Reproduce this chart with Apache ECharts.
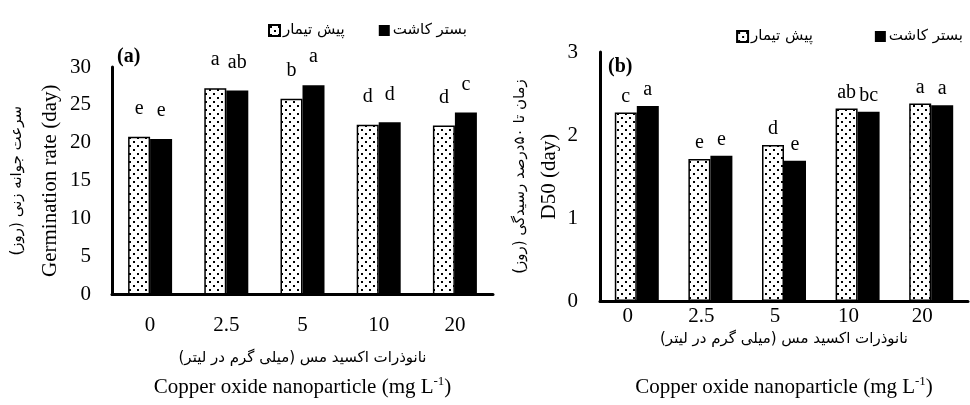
<!DOCTYPE html>
<html>
<head>
<meta charset="utf-8">
<script src="https://cdn.jsdelivr.net/npm/echarts@6/dist/echarts.min.js"></script>
<style>
  html, body { margin: 0; padding: 0; background: #fff; }
  #chart { width: 970px; height: 405px; }
</style>
</head>
<body>
<div id="chart"></div>
<script>
// concentration of CuO nanoparticles (mg/L)
var categories = ['0', '2.5', '5', '10', '20'];

// (a) germination rate (day)
var germPre = [20.8, 27.2, 25.8, 22.4, 22.3];
var germBed = [20.5, 26.9, 27.6, 22.7, 24.0];
var germPreLetters = ['e', 'a', 'b', 'd', 'd'];
var germBedLetters = ['e', 'ab', 'a', 'd', 'c'];

// (b) D50 (day)
var d50Pre = [2.27, 1.71, 1.88, 2.32, 2.38];
var d50Bed = [2.35, 1.75, 1.69, 2.28, 2.36];
var d50PreLetters = ['c', 'e', 'd', 'ab', 'a'];
var d50BedLetters = ['a', 'e', 'e', 'bc', 'a'];

var namePre = 'پیش تیمار';
var nameBed = 'بستر کاشت';

var RLM = '\u200F';
var serif = 'Liberation Serif';
var faFont = 'DejaVu Sans';

// dotted fill like the excel pattern
function dots() {
    var c = document.createElement('canvas');
    c.width = 8; c.height = 8;
    var ctx = c.getContext('2d');
    ctx.fillStyle = '#fff';
    ctx.fillRect(0, 0, 8, 8);
    ctx.fillStyle = '#000';
    ctx.fillRect(1, 1, 2, 2);
    ctx.fillRect(5, 5, 2, 2);
    return c;
}
var dotFill = { image: dots(), repeat: 'repeat' };

var myChart = echarts.init(document.getElementById('chart'));

function letterLabel(arr, dist) {
    return {
        show: true,
        position: 'top',
        distance: dist,
        color: '#000',
        fontFamily: serif,
        fontSize: 20,
        formatter: function (p) { return arr[p.dataIndex]; }
    };
}

var axisLine = { show: true, lineStyle: { color: '#000', width: 3 } };
var tickText = { color: '#000', fontFamily: serif, fontSize: 21 };

var richNames = {
    fa: { fontFamily: faFont, fontSize: 15, color: '#000' },
    en: { fontFamily: serif, fontSize: 21, color: '#000' },
    s: { fontFamily: serif, fontSize: 13, color: '#000', lineHeight: 13, padding: [0, 0, 12, 0] }
};

function rich(faLh, enLh) {
    return {
        fa: Object.assign({}, richNames.fa, { lineHeight: faLh }),
        en: Object.assign({}, richNames.en, { lineHeight: enLh }),
        s: richNames.s
    };
}

var xName = '{fa|' + RLM + 'نانوذرات اکسید مس (میلی گرم در لیتر)' + RLM + '}\n{en|Copper oxide nanoparticle (mg L}{s|-1}{en|)}';
var legendText = { fontFamily: faFont, fontSize: 15, color: '#000', padding: [0, 0, 0, -2] };

var option = {
    animation: false,
    backgroundColor: '#fff',
    title: [
        { text: '(a)', left: 112, top: 42, textStyle: { fontFamily: serif, fontSize: 20, fontWeight: 'bold', color: '#000' } },
        { text: '(b)', left: 603, top: 52, textStyle: { fontFamily: serif, fontSize: 20, fontWeight: 'bold', color: '#000' } }
    ],
    legend: [
        {
            left: 263, top: 18, icon: 'rect', itemWidth: 11, itemHeight: 11, itemGap: 34,
            orient: 'horizontal', selectedMode: false, data: [namePre, nameBed],
            textStyle: legendText
        },
        {
            right: 2, top: 24, icon: 'rect', itemWidth: 11, itemHeight: 11, itemGap: 62,
            orient: 'horizontal', selectedMode: false, data: [namePre, nameBed],
            textStyle: legendText
        }
    ],
    grid: [
        { left: 112, top: 67, width: 381, height: 233 },
        { left: 600, top: 52, width: 368, height: 259 }
    ],
    xAxis: [
        {
            gridIndex: 0, type: 'category', data: categories,
            axisLine: axisLine, axisTick: { show: false },
            axisLabel: Object.assign({ margin: 20 }, tickText),
            name: xName, nameLocation: 'middle', nameGap: 50,
            nameTextStyle: { rich: rich(28, 30) }
        },
        {
            gridIndex: 1, type: 'category', data: categories,
            axisLine: axisLine, axisTick: { show: false },
            axisLabel: Object.assign({ margin: 5, padding: [0, 18, 0, 0] }, tickText),
            name: xName, nameLocation: 'middle', nameGap: 16,
            nameTextStyle: { rich: rich(26, 70) }
        }
    ],
    yAxis: [
        {
            gridIndex: 0, type: 'value', min: 0, max: 30, interval: 5,
            axisLine: axisLine, axisTick: { show: false }, splitLine: { show: false },
            axisLabel: Object.assign({ margin: 21 }, tickText),
            name: '{fa|' + RLM + 'سرعت جوانه زنی (روز)' + RLM + '}\n{en|Germination rate (day)}',
            nameLocation: 'middle', nameRotate: 90, nameGap: 49,
            nameTextStyle: { rich: rich(40, 26) }
        },
        {
            gridIndex: 1, type: 'value', min: 0, max: 3, interval: 1,
            axisLine: axisLine, axisTick: { show: false }, splitLine: { show: false },
            axisLabel: Object.assign({ margin: 22 }, tickText),
            name: '{fa|' + RLM + 'زمان تا ۵۰درصد رسیدگی (روز)' + RLM + '}\n{en|D50 (day)}',
            nameLocation: 'middle', nameRotate: 90, nameGap: 38,
            nameTextStyle: { rich: rich(32, 26) }
        }
    ],
    series: [
        {
            name: namePre, type: 'bar', xAxisIndex: 0, yAxisIndex: 0,
            data: germPre, barWidth: 22, barGap: '0%',
            itemStyle: { color: dotFill, borderColor: '#000', borderWidth: 1.5 },
            label: letterLabel(germPreLetters, 18)
        },
        {
            name: nameBed, type: 'bar', xAxisIndex: 0, yAxisIndex: 0,
            data: germBed, barWidth: 22, barGap: '0%',
            itemStyle: { color: '#000' },
            label: letterLabel(germBedLetters, 18)
        },
        {
            name: namePre, type: 'bar', xAxisIndex: 1, yAxisIndex: 1,
            data: d50Pre, barWidth: 22, barGap: '0%',
            itemStyle: { color: dotFill, borderColor: '#000', borderWidth: 1.5 },
            label: letterLabel(d50PreLetters, 6)
        },
        {
            name: nameBed, type: 'bar', xAxisIndex: 1, yAxisIndex: 1,
            data: d50Bed, barWidth: 22, barGap: '0%',
            itemStyle: { color: '#000' },
            label: letterLabel(d50BedLetters, 6)
        }
    ]
};

myChart.setOption(option);
</script>
</body>
</html>
